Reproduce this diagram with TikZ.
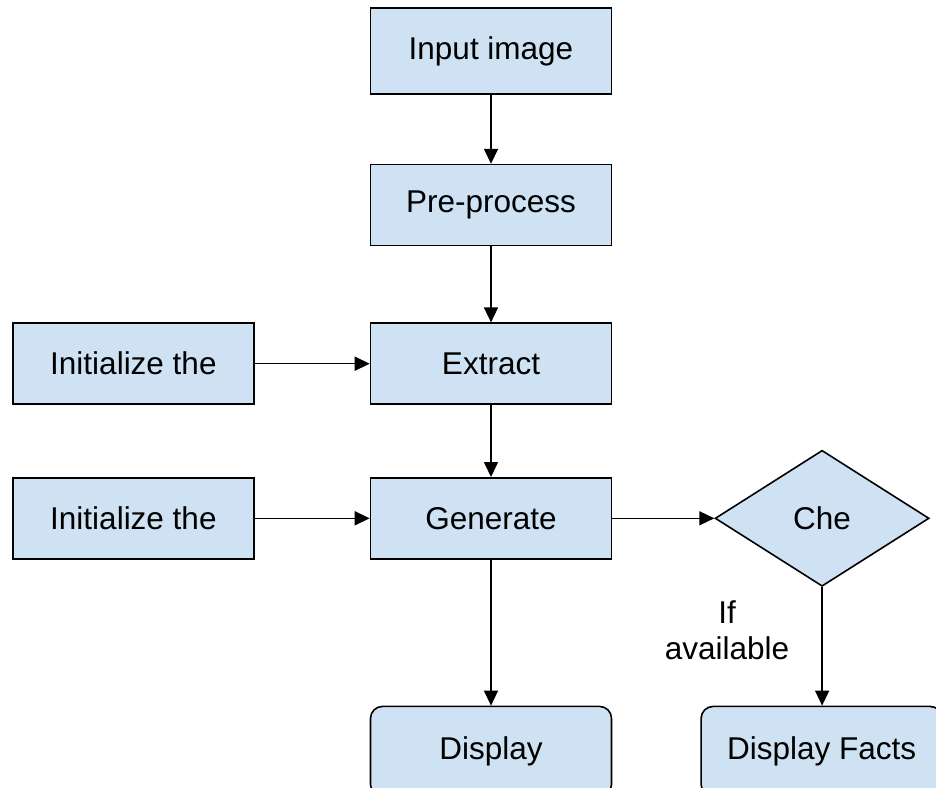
\documentclass[tikz,border=0pt]{standalone}
\usepackage{fontspec}
\setmainfont{Liberation Sans}
\usepackage{xcolor}
\usetikzlibrary{arrows.meta,positioning,shapes.geometric}
\definecolor{boxblue}{HTML}{CFE2F3}

\begin{document}
\begin{tikzpicture}[x=1pt,y=1pt,
    font=\fontsize{31.5}{36}\selectfont,
    procbox/.style={draw=black,fill=boxblue,line width=1.6pt,minimum width=241pt,minimum height=81pt,inner sep=0pt},
    endbox/.style={procbox,rounded corners=12pt,minimum height=90pt},
    testbox/.style={draw=black,fill=boxblue,line width=1.6pt,diamond,minimum width=214pt,minimum height=136pt,inner sep=0pt},
    flow/.style={line width=1.5pt,-{Triangle[length=15pt,width=14pt]}}]
        \clip (0,0) rectangle (936,-787);
        \node[procbox,minimum height=86pt] (input) at (491,-51) {Input image};
        \node[procbox,below=69pt of input] (pre) {Pre-process};
        \node[procbox,below=76pt of pre] (extract) {Extract};
        \node[procbox,below=72pt of extract] (generate) {Generate};
        \node[procbox,left=115pt of extract] (init1) {Initialize the};
        \node[procbox,left=115pt of generate] (init2) {Initialize the};
        \node[testbox,right=102pt of generate] (check) {Che};
        \node[endbox,below=146pt of generate] (display) {Display};
        \node[endbox,right=88pt of display] (facts) {Display Facts};
        \node[align=center] (avail) at (727,-630) {If\\available};
        \draw[flow] (input) -- (pre);
        \draw[flow] (pre) -- (extract);
        \draw[flow] (extract) -- (generate);
        \draw[flow] (init1) -- (extract);
        \draw[flow] (init2) -- (generate);
        \draw[flow] (generate) -- (check);
        \draw[flow] (generate) -- (display);
        \draw[flow] (check.south) -- (check.south |- facts.north);
\end{tikzpicture}
\end{document}
